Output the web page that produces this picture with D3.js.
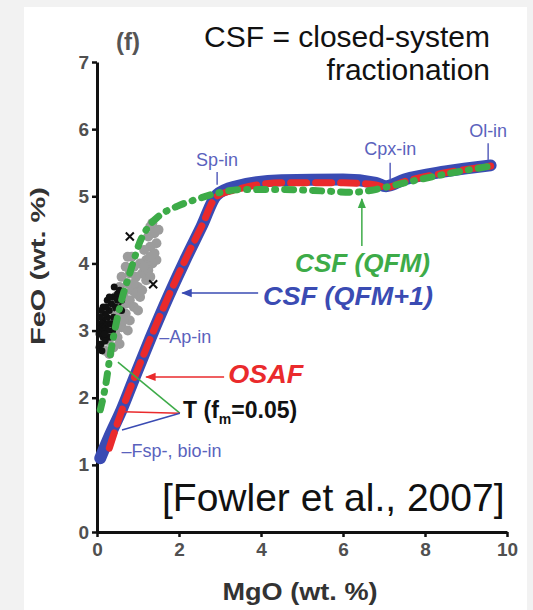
<!DOCTYPE html>
<html>
<head>
<meta charset="utf-8">
<script src="https://cdn.jsdelivr.net/npm/d3@7"></script>
<style>
  html, body { margin: 0; padding: 0; background: #f2f2f2; }
  svg { display: block; }
</style>
</head>
<body>
<div id="chart"></div>
<script>
// MgO / FeO (wt. %)
const csfQfm1 = [[0.08, 1.1], [0.3, 1.42], [0.6, 1.82], [0.9, 2.28], [1.3, 2.88], [1.75, 3.52],
  [2.15, 4.05], [2.55, 4.55], [2.92, 5.02], [3.4, 5.15], [4.5, 5.24], [6.0, 5.25], [6.8, 5.2],
  [7.05, 5.15], [7.5, 5.25], [8.5, 5.37], [9.6, 5.46]];
const osaf = [[0.3, 1.25], [0.6, 1.8], [0.9, 2.28], [1.3, 2.88], [1.75, 3.52], [2.15, 4.05],
  [2.55, 4.55], [2.92, 5.0], [3.4, 5.1], [4.5, 5.2], [6.0, 5.2], [6.8, 5.17], [7.05, 5.13],
  [7.5, 5.22], [8.5, 5.35], [9.6, 5.45]];
const csfQfm = [[0.08, 1.82], [0.15, 2.0], [0.22, 2.22], [0.3, 2.55], [0.4, 2.9], [0.5, 3.2],
  [0.62, 3.5], [0.76, 3.78], [0.9, 4.05], [1.02, 4.28], [1.2, 4.5], [1.5, 4.7], [1.95, 4.85],
  [2.45, 4.96], [2.95, 5.05], [3.5, 5.1], [4.5, 5.1], [5.5, 5.08], [6.2, 5.06], [6.7, 5.09],
  [7.0, 5.13], [7.5, 5.2], [8.5, 5.33], [9.6, 5.45]];
const samplesGray = [[1.3, 4.55], [1.4, 4.45], [1.25, 4.4], [1.45, 4.3], [1.3, 4.25], [1.15, 4.2],
  [1.4, 4.15], [1.2, 4.05], [1.35, 4.0], [1.05, 4.0], [0.75, 4.1], [0.7, 3.95], [0.8, 3.85],
  [1.1, 3.85], [1.25, 3.9], [0.95, 3.8], [1.2, 3.75], [0.6, 3.8], [0.75, 3.7], [1.0, 3.65],
  [0.85, 3.6], [0.55, 3.65], [0.65, 3.55], [1.05, 3.5], [0.8, 3.45], [0.45, 3.5], [0.6, 3.4],
  [0.9, 3.35], [0.4, 3.3], [0.7, 3.25], [0.5, 3.2], [0.8, 3.15], [0.35, 3.1], [0.6, 3.05],
  [0.3, 2.95], [0.5, 2.9], [0.25, 2.85], [0.4, 2.75], [0.2, 2.7], [1.5, 4.5], [1.35, 4.6],
  [1.45, 4.05], [1.3, 3.8], [1.15, 3.95], [0.9, 3.95], [0.85, 4.1], [0.95, 3.55], [0.7, 3.4],
  [0.55, 3.3], [1.0, 3.3], [0.65, 3.15], [0.45, 3.0], [0.75, 3.0], [0.35, 2.9], [0.55, 2.8],
  [0.3, 2.65], [1.1, 3.6], [1.3, 4.1], [0.9, 3.7]];
const samplesBlack = [[0.1, 2.8], [0.15, 2.9], [0.1, 3.0], [0.2, 3.05], [0.15, 3.15], [0.25, 3.2],
  [0.1, 3.1], [0.3, 3.3], [0.2, 3.25], [0.35, 3.4], [0.25, 3.0], [0.3, 2.9], [0.05, 2.95],
  [0.4, 3.5], [0.5, 3.55], [0.45, 3.35], [0.2, 2.85], [0.35, 3.1], [0.15, 3.35], [0.55, 3.6],
  [0.6, 3.45], [0.25, 3.45], [0.05, 2.75], [0.12, 2.7], [0.08, 3.2], [0.22, 3.35], [0.3, 3.5],
  [0.4, 3.2], [0.18, 2.95], [0.28, 3.1], [0.5, 3.45], [0.38, 3.0], [0.12, 3.05], [0.1, 3.3],
  [0.42, 3.65], [0.6, 3.3]];
const samplesCross = [[0.8, 4.4], [1.37, 3.69], [0.5, 3.35], [0.2, 3.1]];
const xTicks = [0, 2, 4, 6, 8, 10];
const yTicks = [0, 1, 2, 3, 4, 5, 6, 7];

const W = 533, H = 610;
const font = "'Liberation Sans', Arial, sans-serif";
const blue = "#3a4bb3", red = "#ea2a2c", green = "#3dab48", labBlue = "#5a62bd";

const svg = d3.select("#chart").append("svg")
  .attr("width", W).attr("height", H);

svg.append("rect").attr("x", 24).attr("y", 7).attr("width", 503).attr("height", H - 7)
  .attr("fill", "white");

const x = d3.scaleLinear().domain([0, 10]).range([97, 507]);
const y = d3.scaleLinear().domain([0, 7]).range([532, 62]);

// arrow markers
const defs = svg.append("defs");
[["blue", blue], ["red", red], ["green", green]].forEach(([id, c]) => {
  defs.append("marker").attr("id", "arr-" + id)
    .attr("viewBox", "0 0 10 10").attr("refX", 9).attr("refY", 5)
    .attr("markerWidth", 7).attr("markerHeight", 7).attr("orient", "auto")
    .append("path").attr("d", "M0,1 L10,5 L0,9 Z").attr("fill", c);
});

// axes
const xAxis = svg.append("g").attr("transform", `translate(0,${y(0)})`)
  .call(d3.axisBottom(x).tickValues(xTicks).tickSize(5).tickSizeOuter(0).tickPadding(6)
    .tickFormat(d3.format("d")));
const yAxis = svg.append("g").attr("transform", `translate(${x(0)},0)`)
  .call(d3.axisLeft(y).tickValues(yTicks).tickSize(5).tickSizeOuter(0).tickPadding(3)
    .tickFormat(d3.format("d")));
[xAxis, yAxis].forEach(a => {
  a.select(".domain").attr("stroke", "#111").attr("stroke-width", 3);
  a.selectAll(".tick line").attr("stroke", "#111").attr("stroke-width", 2.5);
  a.selectAll(".tick text").attr("fill", "#505050").style("font-family", font)
    .style("font-size", "19px").style("font-weight", "bold");
});

// scatter data
svg.append("g").selectAll("circle").data(samplesGray).join("circle")
  .attr("cx", d => x(d[0])).attr("cy", d => y(d[1])).attr("r", 5)
  .attr("fill", "#9c9c9c");
svg.append("g").selectAll("circle").data(samplesBlack).join("circle")
  .attr("cx", d => x(d[0])).attr("cy", d => y(d[1])).attr("r", 3.5)
  .attr("fill", "#111");
svg.append("g").selectAll("path").data(samplesCross).join("path")
  .attr("transform", d => `translate(${x(d[0])},${y(d[1])})`)
  .attr("d", "M-4,-4L4,4M-4,4L4,-4")
  .attr("stroke", "#111").attr("stroke-width", 2);

const line = d3.line().x(d => x(d[0])).y(d => y(d[1])).curve(d3.curveMonotoneX);

svg.append("path").datum(csfQfm1).attr("d", line)
  .attr("fill", "none").attr("stroke", blue).attr("stroke-width", 12)
  .attr("stroke-linejoin", "round").attr("stroke-linecap", "round");
svg.append("path").datum(osaf).attr("d", line)
  .attr("fill", "none").attr("stroke", red).attr("stroke-width", 7)
  .attr("stroke-dasharray", "16,9").attr("stroke-linecap", "round");
svg.append("path").datum(csfQfm).attr("d", line)
  .attr("fill", "none").attr("stroke", green).attr("stroke-width", 7)
  .attr("stroke-dasharray", "9,9,1,9").attr("stroke-linecap", "round");

// annotations (positions in data units)
const ann = svg.append("g").style("font-family", font);

function tickMark(mx, y0, y1) {
  ann.append("line").attr("x1", x(mx)).attr("x2", x(mx)).attr("y1", y(y0)).attr("y2", y(y1))
    .attr("stroke", labBlue).attr("stroke-width", 1.5);
}
function small(t, mx, fe, anchor) {
  ann.append("text").attr("x", x(mx)).attr("y", y(fe)).attr("text-anchor", anchor || "middle")
    .attr("fill", labBlue).style("font-size", "18px").text(t);
}
small("Sp-in", 2.93, 5.45); tickMark(2.93, 5.36, 5.17);
small("Cpx-in", 7.15, 5.62); tickMark(7.15, 5.5, 5.25);
small("Ol-in", 9.54, 5.88); tickMark(9.54, 5.79, 5.54);
small("\u2013Ap-in", 1.52, 2.81, "start");
small("\u2013Fsp-, bio-in", 0.6, 1.12, "start");

ann.append("line").attr("x1", x(6.46)).attr("x2", x(6.46)).attr("y1", y(4.26)).attr("y2", y(4.96))
  .attr("stroke", green).attr("stroke-width", 1.5).attr("marker-end", "url(#arr-green)");
ann.append("text").attr("x", x(4.83)).attr("y", y(3.87))
  .attr("fill", green).style("font-size", "25px").style("font-weight", "bold")
  .style("font-style", "italic").attr("textLength", 135).attr("lengthAdjust", "spacingAndGlyphs")
  .text("CSF (QFM)");

ann.append("line").attr("x1", x(3.93)).attr("x2", x(2.08)).attr("y1", y(3.56)).attr("y2", y(3.56))
  .attr("stroke", blue).attr("stroke-width", 1.5).attr("marker-end", "url(#arr-blue)");
ann.append("text").attr("x", x(4.05)).attr("y", y(3.38))
  .attr("fill", blue).style("font-size", "25px").style("font-weight", "bold")
  .style("font-style", "italic").attr("textLength", 170).attr("lengthAdjust", "spacingAndGlyphs")
  .text("CSF (QFM+1)");

ann.append("line").attr("x1", x(3.1)).attr("x2", x(1.2)).attr("y1", y(2.31)).attr("y2", y(2.31))
  .attr("stroke", red).attr("stroke-width", 1.5).attr("marker-end", "url(#arr-red)");
ann.append("text").attr("x", x(3.2)).attr("y", y(2.22))
  .attr("fill", red).style("font-size", "25px").style("font-weight", "bold")
  .style("font-style", "italic").attr("textLength", 75).attr("lengthAdjust", "spacingAndGlyphs")
  .text("OSAF");

// T (fm=0.05) leader lines
[[green, 0.51, 2.53], [red, 0.63, 1.79], [blue, 0.61, 1.52]].forEach(([c, mx, fe]) => {
  ann.append("line").attr("x1", x(2.02)).attr("y1", y(1.77)).attr("x2", x(mx)).attr("y2", y(fe))
    .attr("stroke", c).attr("stroke-width", 1.5);
});
const tText = ann.append("text").attr("x", x(2.1)).attr("y", y(1.7))
  .attr("fill", "#111").style("font-size", "23px").style("font-weight", "bold");
tText.append("tspan").text("T (f");
tText.append("tspan").attr("dy", 6).style("font-size", "14px").text("m");
tText.append("tspan").attr("dy", -6).text("=0.05)");

// titles
svg.append("text").attr("x", 128).attr("y", 50).attr("text-anchor", "middle")
  .attr("fill", "#555").style("font-family", font).style("font-size", "24px")
  .style("font-weight", "bold").text("(f)");
svg.append("text").attr("x", 490).attr("y", 47).attr("text-anchor", "end")
  .attr("fill", "#111").style("font-family", font).style("font-size", "30px")
  .text("CSF = closed-system");
svg.append("text").attr("x", 490).attr("y", 80).attr("text-anchor", "end")
  .attr("fill", "#111").style("font-family", font).style("font-size", "30px")
  .text("fractionation");
svg.append("text").attr("x", 162).attr("y", 511)
  .attr("fill", "#111").style("font-family", font).style("font-size", "39px")
  .text("[Fowler et al., 2007]");

// axis titles
svg.append("text").attr("x", 300).attr("y", 600).attr("text-anchor", "middle")
  .attr("fill", "#333").style("font-family", font).style("font-size", "23px")
  .style("font-weight", "bold").attr("textLength", 155).attr("lengthAdjust", "spacingAndGlyphs")
  .text("MgO (wt. %)");
svg.append("text").attr("transform", "translate(45,266) rotate(-90)").attr("text-anchor", "middle")
  .attr("fill", "#333").style("font-family", font).style("font-size", "21px")
  .style("font-weight", "bold").attr("textLength", 158).attr("lengthAdjust", "spacingAndGlyphs")
  .text("FeO (wt. %)");
</script>
</body>
</html>
